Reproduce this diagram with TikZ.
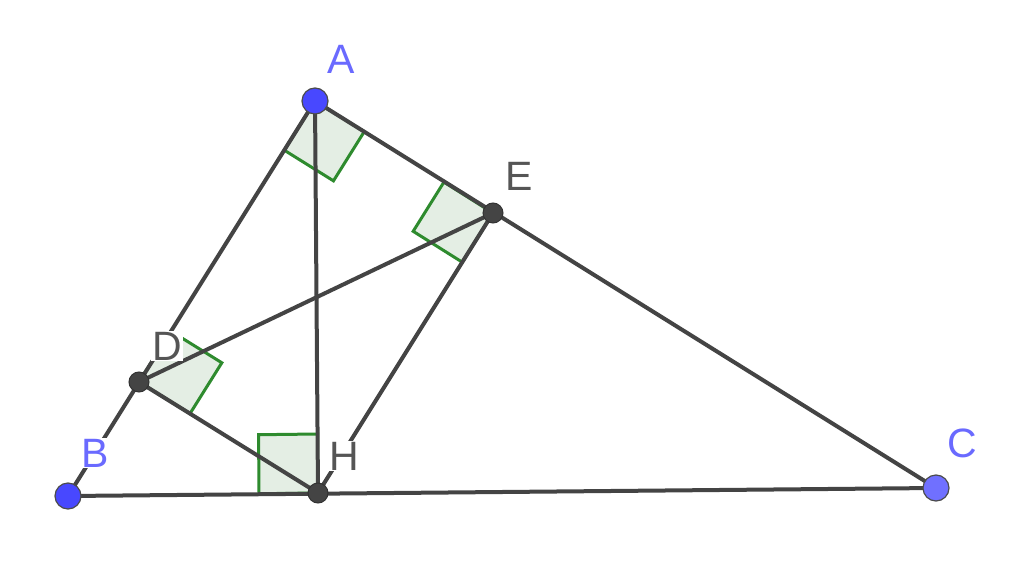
\documentclass[tikz,border=0pt]{standalone}
\usepackage{fontspec}
\setmainfont{Liberation Sans}
\usetikzlibrary{calc}
\definecolor{seg}{HTML}{444444}
\definecolor{angg}{HTML}{2E8B2E}
\definecolor{angf}{HTML}{E4EEE4}
\definecolor{ptblue}{HTML}{4848FF}
\definecolor{ptblueC}{HTML}{7070FF}
\definecolor{lblblue}{HTML}{6A6AFF}
\definecolor{lblgray}{HTML}{555555}
\tikzset{
  segline/.style={draw=seg, line width=4pt},
  rightang/.style={draw=angg, line width=3pt, fill=angf, line join=miter},
  freept/.style={circle, draw=black!70, line width=1.2pt, fill=ptblue, minimum size=26pt, inner sep=0pt},
  deppt/.style={circle, draw=black!80, line width=1pt, fill=seg, minimum size=20pt, inner sep=0pt},
  lbl/.style={font=\fontsize{41}{41}\selectfont, fill=white, inner sep=1pt},
}
\begin{document}
\begin{tikzpicture}[x=1pt,y=-1pt]
\useasboundingbox (0,0) rectangle (1024,585);
\fill[white] (0,0) rectangle (1024,585);
\coordinate (A) at (315,101);
\coordinate (B) at (68,496);
\coordinate (C) at (936,488);
\coordinate (H) at (318,493);
\coordinate (D) at (139,382);
\coordinate (E) at (493,213);
% right angle markers
\coordinate (a1) at ($(A)!58pt!(B)$);
\coordinate (a2) at ($(A)!58pt!(C)$);
\coordinate (a3) at ($(a1)+(a2)-(A)$);
\coordinate (e1) at ($(E)!58pt!(A)$);
\coordinate (e2) at ($(E)!58pt!(H)$);
\coordinate (e3) at ($(e1)+(e2)-(E)$);
\coordinate (d1) at ($(D)!60pt!(A)$);
\coordinate (d2) at ($(D)!60pt!(H)$);
\coordinate (d3) at ($(d1)+(d2)-(D)$);
\coordinate (h1) at ($(H)!59pt!(A)$);
\coordinate (h2) at ($(H)!59pt!(B)$);
\coordinate (h3) at ($(h1)+(h2)-(H)$);
\path[rightang] (A) -- (a1) -- (a3) -- (a2) -- cycle;
\path[rightang] (E) -- (e1) -- (e3) -- (e2) -- cycle;
\path[rightang] (D) -- (d1) -- (d3) -- (d2) -- cycle;
\path[rightang] (H) -- (h1) -- (h3) -- (h2) -- cycle;
% segments
\draw[segline] (A) -- (B);
\draw[segline] (A) -- (C);
\draw[segline] (B) -- (C);
\draw[segline] (A) -- (H);
\draw[segline] (D) -- (E);
\draw[segline] (D) -- (H);
\draw[segline] (E) -- (H);
% labels
\node[lbl, text=lblblue] (lA) at (341,59) {A};
\node[lbl, text=lblblue] (lB) at (95,453) {B};
\node[lbl, text=lblblue] (lC) at (962,443) {C};
\node[lbl, text=lblgray] (lD) at (167,346) {D};
\node[lbl, text=lblgray] (lE) at (519,176) {E};
\node[lbl, text=lblgray] (lH) at (344,456) {H};
% points
\node[freept] (pA) at (A) {};
\node[freept] (pB) at (B) {};
\node[freept, fill=ptblueC] (pC) at (C) {};
\node[deppt] (pD) at (D) {};
\node[deppt] (pE) at (E) {};
\node[deppt] (pH) at (H) {};
\end{tikzpicture}
\end{document}
